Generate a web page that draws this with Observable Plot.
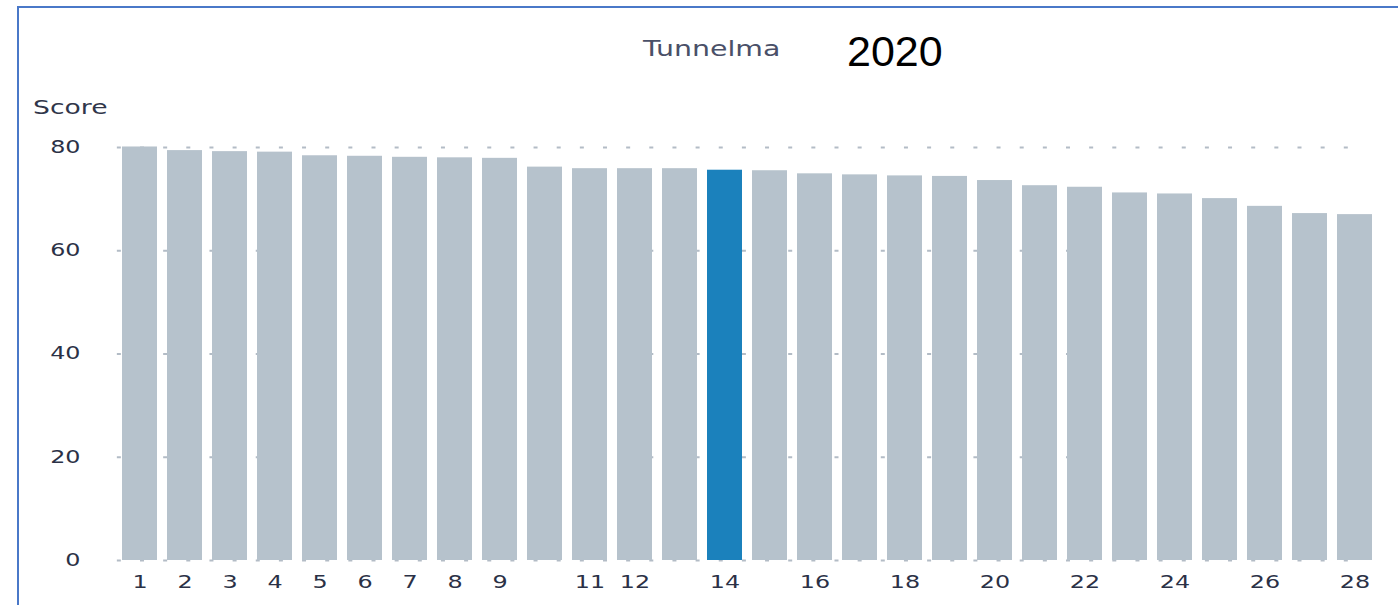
<!DOCTYPE html>
<html>
<head>
<meta charset="utf-8">
<script src="https://cdn.jsdelivr.net/npm/d3@7"></script>
<script src="https://cdn.jsdelivr.net/npm/@observablehq/plot@0.6"></script>
<style>
  html, body { margin: 0; padding: 0; background: #fff; }
  #wrap { position: relative; width: 1398px; height: 605px; overflow: hidden; }
  #frame { position: absolute; left: 17px; top: 6px; width: 1600px; height: 800px; border: 2px solid #4a78c8; box-sizing: border-box; }
  .lbl { position: absolute; white-space: nowrap; transform-origin: 0 0; }
  #title { left: 643px; top: 38px; font: 22px/22px "DejaVu Sans"; color: #4a5068; transform: scaleX(1.29); }
  #year { left: 847px; top: 29px; font: 43px/44px "Liberation Sans"; color: #000; }
  #ylab { left: 33px; top: 97px; font: 20px/20px "DejaVu Sans"; color: #30364a; transform: scaleX(1.33); }
  #chart { position: absolute; left: 0; top: 90px; }
</style>
</head>
<body>
<div id="wrap">
  <div id="frame"></div>
  <div class="lbl" id="title">Tunnelma</div>
  <div class="lbl" id="year">2020</div>
  <div class="lbl" id="ylab">Score</div>
  <div id="chart"></div>
</div>
<script>
const ranks = [1,2,3,4,5,6,7,8,9,10,11,12,13,14,15,16,17,18,19,20,21,22,23,24,25,26,27,28];
const scores = [80.1,79.4,79.2,79.1,78.4,78.3,78.1,78.0,77.9,76.2,75.9,75.9,75.9,75.6,75.5,74.9,74.7,74.5,74.4,73.6,72.6,72.3,71.2,71.0,70.1,68.6,67.2,67.0];
const highlightRank = 14;
const xTickLabels = [1,2,3,4,5,6,7,8,9,11,12,14,16,18,20,22,24,26,28];
const yTicks = [0,20,40,60,80];

const data = ranks.map((r, i) => ({rank: r, score: scores[i], fill: r === highlightRank ? "#1b81bc" : "#b6c2cc"}));

const chart = Plot.plot({
  width: 1398,
  height: 515,
  marginTop: 57,
  marginBottom: 45,
  marginLeft: 112,
  marginRight: 16,
  x: {type: "band", domain: ranks, padding: 0.222, align: 0.5},
  y: {domain: [0, 80]},
  color: {type: "identity"},
  style: {fontFamily: "DejaVu Sans", fontSize: "17px", color: "#2b3146", background: "transparent", overflow: "visible"},
  marks: [
    Plot.ruleY(yTicks, {stroke: "#b3bcc6", strokeWidth: 2, strokeDasharray: "4,19.15", strokeDashoffset: 18.3, insetRight: 30}),
    Plot.barY(data, {x: "rank", y: "score", fill: "fill"}),
    Plot.axisX({ticks: xTickLabels, tickSize: 0, tickPadding: 15, label: null}),
    Plot.axisY({ticks: yTicks, tickSize: 0, tickPadding: 32, label: null})
  ]
});
document.getElementById("chart").appendChild(chart);

// widen glyphs horizontally to match the reference's wide typeface
chart.querySelectorAll("text").forEach(t => {
  const len = t.getComputedTextLength();
  if (len > 0) {
    t.setAttribute("textLength", (len * 1.4).toFixed(1));
    t.setAttribute("lengthAdjust", "spacingAndGlyphs");
  }
});
</script>
</body>
</html>
